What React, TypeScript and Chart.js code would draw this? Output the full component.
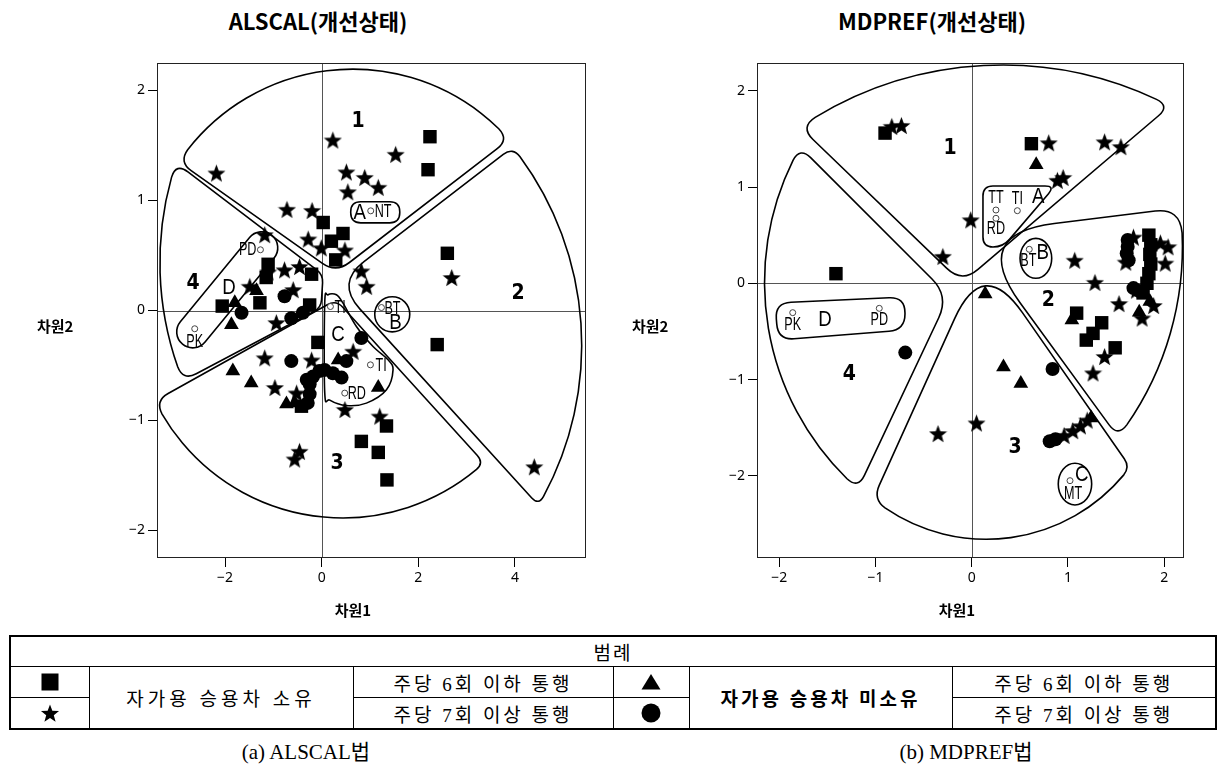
import React, { useEffect, useRef } from 'react';
import { Chart, registerables } from 'chart.js';
Chart.register(...registerables);

type Pt = [number, number];

// ================= DATA : ALSCAL =================
const alscalOwnLow: Pt[] = [
  [2.24, 1.58], [2.20, 1.28], [2.60, 0.52], [2.39, -0.31], [0.03, 0.80], [0.44, 0.70], [0.20, 0.63],
  [0.29, 0.46], [-1.11, 0.42], [-0.21, 0.33], [-1.28, 0.07], [-2.06, 0.04], [-0.25, 0.05], [-0.08, -0.29],
  [-0.42, -0.87], [1.34, -1.05], [0.82, -1.19], [1.17, -1.29], [1.35, -1.54], [-1.15, 0.30],
];
const alscalOwnHigh: Pt[] = [
  [-2.18, 1.25], [0.23, 1.55], [1.53, 1.42], [0.51, 1.26], [0.89, 1.21], [1.17, 1.12], [0.54, 1.08],
  [-0.72, 0.92], [-0.20, 0.91], [-0.28, 0.65], [-0.01, 0.57], [0.48, 0.55], [-1.18, 0.69], [0.82, 0.36],
  [0.93, 0.22], [-1.49, 0.22], [-0.77, 0.37], [-0.46, 0.40], [-1.11, 0.35], [-0.59, 0.19], [-0.94, -0.11],
  [-1.18, -0.43], [-0.97, -0.70], [-0.21, -0.45], [0.65, -0.37], [0.48, -0.90], [1.20, -0.96],
  [-0.46, -1.28], [-0.56, -1.35], [-0.52, -0.75], [4.40, -1.42], [2.69, 0.30],
];
const alscalNoLow: Pt[] = [
  [-1.87, -0.13], [-1.80, 0.07], [-1.84, -0.55], [-1.46, -0.66], [-0.73, -0.85], [-0.56, -0.84],
  [0.34, -0.45], [1.17, -0.70], [-1.35, 0.18],
];
const alscalNoHigh: Pt[] = [
  [-1.66, -0.02], [-0.77, 0.13], [-0.63, -0.07], [-0.39, -0.02], [-0.63, -0.46], [0.82, -0.25],
  [0.51, -0.46], [0.06, -0.54], [0.23, -0.57], [0.41, -0.61], [-0.18, -0.60], [-0.25, -0.67],
  [-0.25, -0.76], [-0.31, -0.63], [-0.05, -0.55], [-0.29, -0.84],
];
const alscalStimNames = ['NT', 'PD', 'PK', 'TI', 'BT', 'TI', 'RD'];
const alscalStimX = [1.014, -1.269, -2.629, 0.180, 1.236, 1.008, 0.476];
const alscalStimY = [0.906, 0.552, -0.166, 0.036, 0.027, -0.494, -0.751];
const alscalClusterNames = ['1', '2', '3', '4'];
const alscalClusterX = [0.752, 4.064, 0.317, -2.665];
const alscalClusterY = [1.718, 0.158, -1.387, 0.249];
const alscalGroupNames = ['A', 'B', 'C', 'D'];
const alscalGroupX = [0.787, 1.526, 0.337, -1.919];
const alscalGroupY = [0.891, -0.115, -0.221, 0.204];
const alscalXTicks = [-2, 0, 2, 4];
const alscalYTicks = [-2, -1, 0, 1, 2];

// ================= DATA : MDPREF =================
const mdprefOwnLow: Pt[] = [
  [-0.90, 1.56], [0.62, 1.45], [-1.41, 0.10], [1.09, -0.31], [1.35, -0.41], [1.26, -0.52], [1.19, -0.59],
  [1.49, -0.67], [1.84, 0.50], [1.86, 0.40], [1.85, 0.30], [1.86, 0.20], [1.84, 0.10], [1.82, 0.00],
  [1.78, -0.10],
];
const mdprefOwnHigh: Pt[] = [
  [-0.83, 1.63], [-0.73, 1.64], [-0.01, 0.66], [-0.30, 0.28], [0.80, 1.46], [1.38, 1.47], [1.55, 1.42],
  [0.89, 1.07], [0.95, 1.10], [1.07, 0.24], [1.28, 0.01], [1.53, -0.21], [1.77, -0.36], [1.89, -0.23],
  [1.38, -0.76], [1.26, -0.93], [0.05, -1.45], [-0.35, -1.56], [1.68, 0.48], [1.96, 0.42], [2.01, 0.21],
  [2.04, 0.38], [1.71, -0.07], [1.60, 0.22], [0.96, -1.58], [1.05, -1.53], [1.13, -1.48], [1.20, -1.42],
];
const mdprefNoLow: Pt[] = [
  [0.67, 1.23], [0.14, -0.11], [1.04, -0.38], [1.85, -0.19], [0.33, -0.87], [0.51, -1.04], [1.24, -1.40],
  [1.74, -0.30],
];
const mdprefNoHigh: Pt[] = [
  [-0.69, -0.72], [0.84, -0.89], [0.81, -1.64], [0.87, -1.62], [1.62, 0.45], [1.62, 0.38], [1.61, 0.31],
  [1.63, 0.24], [1.68, -0.05], [1.74, -0.08],
];
const mdprefStimNames = ['TT', 'TI', 'RD', 'BT', 'PK', 'PD', 'MT'];
const mdprefStimX = [0.252, 0.474, 0.252, 0.598, -1.859, -0.960, 1.021];
const mdprefStimY = [0.761, 0.754, 0.675, 0.353, -0.305, -0.260, -2.050];
const mdprefClusterNames = ['1', '2', '3', '4'];
const mdprefClusterX = [-0.225, 0.795, 0.450, -1.271];
const mdprefClusterY = [1.402, -0.181, -1.703, -0.952];
const mdprefGroupNames = ['A', 'B', 'C', 'D'];
const mdprefGroupX = [0.692, 0.737, 1.142, -1.523];
const mdprefGroupY = [0.899, 0.312, -1.991, -0.381];
const mdprefXTicks = [-2, -1, 0, 1, 2];
const mdprefYTicks = [-2, -1, 0, 1, 2];

// ================= LEGEND TEXT =================
const ownershipLabels = ['자가용 승용차 소유', '자가용 승용차 미소유'];
const frequencyLabels = ['주당 6회 이하 통행', '주당 7회 이상 통행'];

// ================= ANNOTATION GEOMETRY (outlines, label placement) =================
const alscalLabelPlace: [number, number, string][] = [
  [4, 1, 'left'], [-4, 0, 'right'], [0, 13, 'center'], [4, 1, 'left'], [3, 2, 'left'], [5, 1, 'left'], [3, 1, 'left'],
];
const mdprefLabelPlace: [number, number, string][] = [
  [0, -12, 'center'], [0, -12, 'center'], [0, 11, 'center'], [-1, 12, 'center'], [0, 12, 'center'], [0, 12, 'center'], [3, 13, 'center'],
];
const alscalWedges = [
  { verts: [[3.878, 1.554], [0.294, 0.342], [-2.957, 1.351]], t: [15, 17, 15], mid: [0.640, 2.194] },
  { verts: [[4.487, -1.771], [0.300, 0.250], [3.954, 1.485]], t: [10, 35, 12], mid: [5.348, -0.024] },
  { verts: [[-3.451, -0.821], [0.296, 0.097], [3.360, -1.385]], t: [15, 10, 10], mid: [0.319, -1.885] },
  { verts: [[-3.017, 1.343], [0.027, 0.325], [-0.014, 0.025], [-2.872, -0.639]], t: [15, 8, 8, 15], mid: [-3.348, 0.370] },
];
const mdprefWedges = [
  { verts: [[2.059, 1.841], [-0.101, 0.003], [-1.783, 1.623]], t: [15, 21, 18], mid: [0.034, 2.256] },
  { verts: [[1.519, -1.596], [-0.018, 0.512], [2.163, 0.782]], t: [15, 85, 25], mid: [2.142, -0.173] },
  { verts: [[1.644, -1.908], [0.117, 0.283], [-1.025, -2.240]], t: [10, 69, 15], mid: [0.034, -2.655] },
  { verts: [[-1.783, 1.415], [-0.236, -0.132], [-1.181, -2.136]], t: [15, 24, 15], mid: [-2.146, -0.173] },
];
const alscalShapes = [
  { kind: 'poly', pts: [[0.60, 0.988], [1.615, 0.988], [1.615, 0.797], [0.60, 0.797]], t: 10 },
  { kind: 'ellipse', x: [1.097, 1.822], y: [-0.194, 0.125] },
  { kind: 'capsule', a: [-2.671, -0.194], b: [-1.242, 0.570], r: 16 },
  {
    kind: 'smooth', pts: [[0.062, 0.07], [0.062, -0.748], [0.166, -0.815], [0.511, -0.864], [0.925, -0.842], [1.340, -0.721],
      [1.476, -0.539], [1.373, -0.448], [1.062, -0.327], [0.718, -0.145], [0.441, 0.067], [0.304, 0.143], [0.130, 0.143]],
  },
];
const mdprefShapes = [
  { kind: 'poly', pts: [[0.117, 1.010], [0.865, 1.010], [0.325, 0.377], [0.117, 0.377]], t: 10 },
  { kind: 'ellipse', x: [0.502, 0.831], y: [0.052, 0.467] },
  { kind: 'poly', pts: [[-2.043, -0.205], [-0.693, -0.142], [-0.693, -0.485], [-2.011, -0.589]], t: 16 },
  { kind: 'ellipse', x: [0.899, 1.246], y: [-2.302, -1.869] },
];

// ================= helpers =================
const TAU = Math.PI * 2;
const norm = (a: number) => ((a % TAU) + TAU) % TAU;
function toward(p: any, q: any, d: number) {
  const dx = q.x - p.x, dy = q.y - p.y;
  const L = Math.hypot(dx, dy) || 1;
  return { x: p.x + (dx / L) * d, y: p.y + (dy / L) * d };
}
function circle3(a: any, b: any, c: any) {
  const d = 2 * (a.x * (b.y - c.y) + b.x * (c.y - a.y) + c.x * (a.y - b.y));
  const A = a.x * a.x + a.y * a.y, B = b.x * b.x + b.y * b.y, C = c.x * c.x + c.y * c.y;
  const x = (A * (b.y - c.y) + B * (c.y - a.y) + C * (a.y - b.y)) / d;
  const y = (A * (c.x - b.x) + B * (a.x - c.x) + C * (b.x - a.x)) / d;
  return { x, y, r: Math.hypot(a.x - x, a.y - y) };
}
function wedgePath(ctx: CanvasRenderingContext2D, V: any[], t: number[], M: any) {
  const k = V.length - 1;
  const c = circle3(V[k], M, V[0]);
  const aS = Math.atan2(V[k].y - c.y, V[k].x - c.x);
  const aM = Math.atan2(M.y - c.y, M.x - c.x);
  const aE = Math.atan2(V[0].y - c.y, V[0].x - c.x);
  const dSE = norm(aE - aS), dSM = norm(aM - aS);
  const pos = dSM < dSE;
  const sign = pos ? 1 : -1;
  const sweep = pos ? dSE : TAU - dSE;
  const a0 = aS + sign * (t[k] / c.r);
  const a1 = aS + sign * (sweep - t[0] / c.r);
  const p0 = { x: c.x + c.r * Math.cos(a0), y: c.y + c.r * Math.sin(a0) };
  ctx.moveTo(p0.x, p0.y);
  ctx.arc(c.x, c.y, c.r, a0, a1, !pos);
  const o0 = toward(V[0], V[1], t[0]);
  ctx.quadraticCurveTo(V[0].x, V[0].y, o0.x, o0.y);
  for (let i = 1; i < k; i++) {
    const inn = toward(V[i], V[i - 1], t[i]);
    ctx.lineTo(inn.x, inn.y);
    const out = toward(V[i], V[i + 1], t[i]);
    ctx.quadraticCurveTo(V[i].x, V[i].y, out.x, out.y);
  }
  const ik = toward(V[k], V[k - 1], t[k]);
  ctx.lineTo(ik.x, ik.y);
  ctx.quadraticCurveTo(V[k].x, V[k].y, p0.x, p0.y);
  ctx.closePath();
}
function roundPoly(ctx: CanvasRenderingContext2D, V: any[], t: number) {
  const n = V.length;
  const s = toward(V[0], V[n - 1], t);
  ctx.moveTo(s.x, s.y);
  for (let i = 0; i < n; i++) {
    if (i > 0) {
      const inn = toward(V[i], V[i - 1], t);
      ctx.lineTo(inn.x, inn.y);
    }
    const out = toward(V[i], V[(i + 1) % n], t);
    ctx.quadraticCurveTo(V[i].x, V[i].y, out.x, out.y);
  }
  ctx.closePath();
}
function smoothClosed(ctx: CanvasRenderingContext2D, P: any[]) {
  const n = P.length;
  ctx.moveTo(P[0].x, P[0].y);
  for (let i = 0; i < n; i++) {
    const p0 = P[(i - 1 + n) % n], p1 = P[i], p2 = P[(i + 1) % n], p3 = P[(i + 2) % n];
    ctx.bezierCurveTo(p1.x + (p2.x - p0.x) / 6, p1.y + (p2.y - p0.y) / 6, p2.x - (p3.x - p1.x) / 6, p2.y - (p3.y - p1.y) / 6, p2.x, p2.y);
  }
  ctx.closePath();
}
function drawText(ctx: CanvasRenderingContext2D, s: string, x: number, y: number, font: string, align: any, sx: number) {
  ctx.save();
  ctx.translate(x, y);
  ctx.scale(sx, 1);
  ctx.font = font;
  ctx.textAlign = align;
  ctx.textBaseline = 'middle';
  ctx.fillStyle = '#000';
  ctx.fillText(s, 0, 0);
  ctx.restore();
}
function makeStar(size: number) {
  const c = document.createElement('canvas');
  c.width = size; c.height = size;
  const g = c.getContext('2d')!;
  const R = size / 2, r = R * 0.42, cx = size / 2, cy = size / 2 + R * 0.1;
  g.fillStyle = '#000';
  g.beginPath();
  for (let i = 0; i < 10; i++) {
    const a = -Math.PI / 2 + (i * Math.PI) / 5;
    const rr = i % 2 === 0 ? R : r;
    g.lineTo(cx + rr * Math.cos(a), cy + rr * Math.sin(a));
  }
  g.closePath();
  g.fill();
  return c;
}
const fmtTick = (v: any) => (Number(v) < 0 ? '\u2212' + Math.abs(Number(v)) : String(v));

function makeOverlay(cfg: any) {
  return {
    id: 'overlay',
    beforeDatasetsDraw(chart: any) {
      const { ctx, chartArea: a } = chart;
      const xs = chart.scales.x, ys = chart.scales.y;
      const P = (p: number[]) => ({ x: xs.getPixelForValue(p[0]), y: ys.getPixelForValue(p[1]) });
      ctx.save();
      ctx.strokeStyle = '#555';
      ctx.lineWidth = 1;
      const x0 = Math.round(xs.getPixelForValue(0)) + 0.5;
      const y0 = Math.round(ys.getPixelForValue(0)) + 0.5;
      ctx.beginPath();
      ctx.moveTo(x0, a.top); ctx.lineTo(x0, a.bottom);
      ctx.moveTo(a.left, y0); ctx.lineTo(a.right, y0);
      ctx.stroke();
      ctx.strokeStyle = '#222';
      ctx.strokeRect(a.left + 0.5, a.top + 0.5, a.right - a.left - 1, a.bottom - a.top - 1);
      ctx.strokeStyle = '#000';
      ctx.lineWidth = 1.6;
      ctx.lineJoin = 'round';
      for (const w of cfg.wedges) {
        ctx.beginPath();
        wedgePath(ctx, w.verts.map(P), w.t, P(w.mid));
        ctx.stroke();
      }
      for (const s of cfg.shapes) {
        ctx.beginPath();
        if (s.kind === 'poly') roundPoly(ctx, s.pts.map(P), s.t);
        else if (s.kind === 'smooth') smoothClosed(ctx, s.pts.map(P));
        else if (s.kind === 'ellipse') {
          const p1 = P([s.x[0], s.y[0]]), p2 = P([s.x[1], s.y[1]]);
          ctx.ellipse((p1.x + p2.x) / 2, (p1.y + p2.y) / 2, Math.abs(p2.x - p1.x) / 2, Math.abs(p2.y - p1.y) / 2, 0, 0, TAU);
        } else if (s.kind === 'capsule') {
          const A = P(s.a), B = P(s.b);
          const th = Math.atan2(B.y - A.y, B.x - A.x);
          ctx.arc(B.x, B.y, s.r, th - Math.PI / 2, th + Math.PI / 2);
          ctx.arc(A.x, A.y, s.r, th + Math.PI / 2, th + (3 * Math.PI) / 2);
          ctx.closePath();
        }
        ctx.stroke();
      }
      ctx.restore();
    },
    afterDatasetsDraw(chart: any) {
      const { ctx } = chart;
      const xs = chart.scales.x, ys = chart.scales.y;
      const px = (v: number) => xs.getPixelForValue(v);
      const py = (v: number) => ys.getPixelForValue(v);
      cfg.clusterNames.forEach((s: string, i: number) =>
        drawText(ctx, s, px(cfg.clusterX[i]), py(cfg.clusterY[i]), 'bold 21px "DejaVu Sans", sans-serif', 'center', 0.9));
      cfg.groupNames.forEach((s: string, i: number) =>
        drawText(ctx, s, px(cfg.groupX[i]), py(cfg.groupY[i]), '22px "Liberation Sans", sans-serif', 'center', 0.85));
      cfg.stimNames.forEach((s: string, i: number) => {
        const pl = cfg.labelPlace[i];
        drawText(ctx, s, px(cfg.stimX[i]) + pl[0], py(cfg.stimY[i]) + pl[1], '18px "Liberation Sans", sans-serif', pl[2], 0.7);
      });
    },
  };
}

const alscalCfg = {
  xMin: -3.41, xMax: 5.47, yMin: -2.25, yMax: 2.25, areaRight: 586, width: 600,
  xTicks: alscalXTicks, yTicks: alscalYTicks,
  series: [alscalOwnLow, alscalOwnHigh, alscalNoLow, alscalNoHigh],
  stimNames: alscalStimNames, stimX: alscalStimX, stimY: alscalStimY, labelPlace: alscalLabelPlace,
  clusterNames: alscalClusterNames, clusterX: alscalClusterX, clusterY: alscalClusterY,
  groupNames: alscalGroupNames, groupX: alscalGroupX, groupY: alscalGroupY,
  wedges: alscalWedges, shapes: alscalShapes,
};
const mdprefCfg = {
  xMin: -2.23, xMax: 2.205, yMin: -2.853, yMax: 2.288, areaRight: 584, width: 623,
  xTicks: mdprefXTicks, yTicks: mdprefYTicks,
  series: [mdprefOwnLow, mdprefOwnHigh, mdprefNoLow, mdprefNoHigh],
  stimNames: mdprefStimNames, stimX: mdprefStimX, stimY: mdprefStimY, labelPlace: mdprefLabelPlace,
  clusterNames: mdprefClusterNames, clusterX: mdprefClusterX, clusterY: mdprefClusterY,
  groupNames: mdprefGroupNames, groupX: mdprefGroupX, groupY: mdprefGroupY,
  wedges: mdprefWedges, shapes: mdprefShapes,
};

const tickFont = { family: '"Noto Sans", "DejaVu Sans", sans-serif', size: 14 };

function Plot({ cfg, left }: { cfg: any; left: number }) {
  const ref = useRef<HTMLCanvasElement | null>(null);
  useEffect(() => {
    const star = makeStar(19);
    const toXY = (arr: Pt[]) => arr.map(([x, y]) => ({ x, y }));
    const stim = cfg.stimX.map((x: number, i: number) => ({ x, y: cfg.stimY[i] }));
    const chart = new Chart(ref.current as HTMLCanvasElement, {
      type: 'scatter',
      data: {
        datasets: [
          { data: stim, pointStyle: 'circle', pointRadius: 3, backgroundColor: '#fff', borderColor: '#444', borderWidth: 1 },
          { data: toXY(cfg.series[0]), pointStyle: 'rect', pointRadius: 9.5, backgroundColor: '#000', borderWidth: 0 },
          { data: toXY(cfg.series[1]), pointStyle: star as any, pointRadius: 9, backgroundColor: '#000', borderWidth: 0 },
          { data: toXY(cfg.series[2]), pointStyle: 'triangle', pointRadius: 8.5, backgroundColor: '#000', borderWidth: 0 },
          { data: toXY(cfg.series[3]), pointStyle: 'circle', pointRadius: 7, backgroundColor: '#000', borderWidth: 0 },
        ] as any,
      },
      options: {
        responsive: false,
        animation: false,
        devicePixelRatio: 1,
        events: [],
        layout: { padding: { left: 0, top: 63, right: cfg.width - cfg.areaRight, bottom: 0 } },
        plugins: { legend: { display: false }, tooltip: { enabled: false } },
        scales: {
          x: {
            type: 'linear', min: cfg.xMin, max: cfg.xMax,
            afterFit: (s: any) => { s.height = 42; },
            afterBuildTicks: (s: any) => { s.ticks = cfg.xTicks.map((v: number) => ({ value: v })); },
            grid: { drawOnChartArea: false, drawTicks: true, tickLength: 9, color: '#000', lineWidth: 1 },
            border: { display: false },
            ticks: { padding: 3, color: '#000', font: tickFont, callback: fmtTick, maxRotation: 0 },
          },
          y: {
            type: 'linear', min: cfg.yMin, max: cfg.yMax,
            afterFit: (s: any) => { s.width = 157; },
            afterBuildTicks: (s: any) => { s.ticks = cfg.yTicks.map((v: number) => ({ value: v })); },
            grid: { drawOnChartArea: false, drawTicks: true, tickLength: 9, color: '#000', lineWidth: 1 },
            border: { display: false },
            ticks: { padding: 3, color: '#000', font: tickFont, callback: fmtTick },
          },
        },
      } as any,
      plugins: [makeOverlay(cfg)],
    });
    return () => chart.destroy();
  }, [cfg]);
  return (
    <canvas ref={ref} width={cfg.width} height={600}
      style={{ position: 'absolute', left, top: 0, width: cfg.width, height: 600 }} />
  );
}

const sansKR = '"Noto Sans CJK KR", sans-serif';
const serifKR = '"Liberation Serif", "Noto Sans CJK KR", serif';

function Sym({ kind }: { kind: string }) {
  let shape: any = null;
  if (kind === 'square') shape = <rect x={1.5} y={1.5} width={17} height={17} fill="#000" />;
  if (kind === 'star') {
    const pts: string[] = [];
    for (let i = 0; i < 10; i++) {
      const a = -Math.PI / 2 + (i * Math.PI) / 5;
      const rr = i % 2 === 0 ? 9.5 : 4;
      pts.push(`${10 + rr * Math.cos(a)},${11 + rr * Math.sin(a)}`);
    }
    shape = <polygon points={pts.join(' ')} fill="#000" />;
  }
  if (kind === 'triangle') shape = <polygon points="10,2 19.5,17.5 0.5,17.5" fill="#000" />;
  if (kind === 'circle') shape = <circle cx={10} cy={10} r={9.5} fill="#000" />;
  return <svg width={20} height={20} style={{ display: 'block', margin: '0 auto' }}>{shape}</svg>;
}

export default function App() {
  const cell: any = { border: '1px solid #000', padding: 0, textAlign: 'center', verticalAlign: 'middle', height: 30 };
  const txt: any = { ...cell, letterSpacing: 3 };
  return (
    <div style={{ position: 'absolute', left: 0, top: 0, width: 1223, height: 776, background: '#fff', overflow: 'hidden' }}>
      <div style={{ position: 'absolute', left: 168, width: 300, top: 6, textAlign: 'center', fontFamily: sansKR, fontWeight: 700, fontSize: 22, lineHeight: '28px' }}>ALSCAL(개선상태)</div>
      <div style={{ position: 'absolute', left: 782, width: 300, top: 6, textAlign: 'center', fontFamily: sansKR, fontWeight: 700, fontSize: 22, lineHeight: '28px' }}>MDPREF(개선상태)</div>
      <Plot cfg={alscalCfg} left={0} />
      <Plot cfg={mdprefCfg} left={600} />
      <div style={{ position: 'absolute', left: 37, top: 315, fontFamily: sansKR, fontWeight: 700, fontSize: 15, lineHeight: '22px' }}>차원2</div>
      <div style={{ position: 'absolute', left: 632, top: 315, fontFamily: sansKR, fontWeight: 700, fontSize: 15, lineHeight: '22px' }}>차원2</div>
      <div style={{ position: 'absolute', left: 303, width: 100, top: 599, textAlign: 'center', fontFamily: sansKR, fontWeight: 700, fontSize: 15, lineHeight: '22px' }}>차원1</div>
      <div style={{ position: 'absolute', left: 907, width: 100, top: 599, textAlign: 'center', fontFamily: sansKR, fontWeight: 700, fontSize: 15, lineHeight: '22px' }}>차원1</div>
      <table style={{ position: 'absolute', left: 9, top: 635, width: 1206, borderCollapse: 'collapse', border: '2.5px solid #000', fontFamily: serifKR, fontSize: 19, tableLayout: 'fixed' }}>
        <colgroup>
          <col style={{ width: 79 }} /><col style={{ width: 264 }} /><col style={{ width: 260 }} />
          <col style={{ width: 76 }} /><col style={{ width: 263 }} /><col style={{ width: 264 }} />
        </colgroup>
        <tbody>
          <tr><td colSpan={6} style={{ ...cell, height: 29, letterSpacing: 2 }}>범례</td></tr>
          <tr>
            <td style={cell}><Sym kind="square" /></td>
            <td rowSpan={2} style={{ ...txt, letterSpacing: 4 }}>{ownershipLabels[0]}</td>
            <td style={txt}>{frequencyLabels[0]}</td>
            <td style={cell}><Sym kind="triangle" /></td>
            <td rowSpan={2} style={{ ...txt, fontWeight: 700 }}>{ownershipLabels[1]}</td>
            <td style={txt}>{frequencyLabels[0]}</td>
          </tr>
          <tr>
            <td style={cell}><Sym kind="star" /></td>
            <td style={txt}>{frequencyLabels[1]}</td>
            <td style={cell}><Sym kind="circle" /></td>
            <td style={txt}>{frequencyLabels[1]}</td>
          </tr>
        </tbody>
      </table>
      <div style={{ position: 'absolute', left: 156, width: 300, top: 738, textAlign: 'center', fontFamily: serifKR, fontSize: 21, lineHeight: '28px' }}>(a) ALSCAL법</div>
      <div style={{ position: 'absolute', left: 816, width: 300, top: 738, textAlign: 'center', fontFamily: serifKR, fontSize: 21, lineHeight: '28px' }}>(b) MDPREF법</div>
    </div>
  );
}
